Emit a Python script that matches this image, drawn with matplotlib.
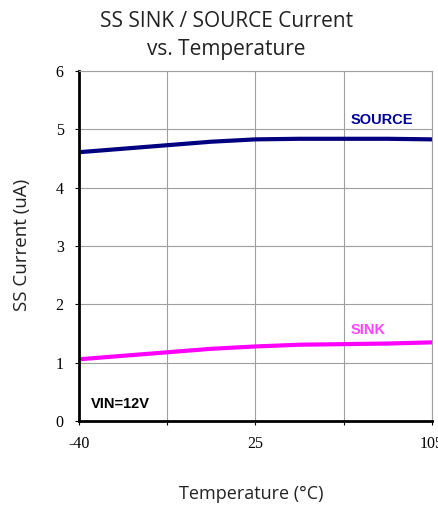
import numpy as np
import matplotlib.pyplot as plt

# temperature axis in the source chart: -40, 25 and 105 sit at 0, 2/4 and 4/4 of the width
axis_temps = [-40, 25, 105]
axis_pos = [0, 2, 4]

temp = np.array([-40, -23.75, -7.5, 8.75, 25, 45, 65, 85, 105])
source = np.array([4.61, 4.67, 4.73, 4.79, 4.83, 4.84, 4.84, 4.84, 4.83])
sink = np.array([1.06, 1.12, 1.18, 1.24, 1.28, 1.31, 1.32, 1.33, 1.35])

xticks = [-40, -7.5, 25, 65, 105]
xtick_labels = ['-40', '', '25', '', '105']


def fwd(t):
    return np.interp(t, axis_temps, axis_pos)


def inv(p):
    return np.interp(p, axis_pos, axis_temps)


fig = plt.figure(figsize=(4.39, 5.08), dpi=100)
ax = fig.add_axes([0.18, 0.171, 0.804, 0.689])
ax.set_xscale('function', functions=(fwd, inv))

ax.plot(temp, source, color='#000080', lw=3)
ax.plot(temp, sink, color='#ff00ff', lw=3)

ax.set_xlim(-40, 105)
ax.set_ylim(0, 6)
ax.set_xticks(xticks)
ax.set_xticklabels(xtick_labels, fontfamily='Liberation Serif', fontsize=11.5)
ax.minorticks_off()
ax.set_yticks(range(7))
ax.set_yticklabels([str(i) for i in range(7)], fontfamily='Liberation Serif', fontsize=11.5)
ax.tick_params(direction='out', length=3, color='black', pad=8)
ax.grid(True, color='#a0a0a0', lw=0.8)

for s in ['top', 'right']:
    ax.spines[s].set_color('#a0a0a0')
for s in ['left', 'bottom']:
    ax.spines[s].set_linewidth(2)
    ax.spines[s].set_color('black')

ax.text(68, 5.1, 'SOURCE', color='#000099', fontfamily='Liberation Sans',
        fontweight='bold', fontsize=10.5)
ax.text(68, 1.5, 'SINK', color='#ff44ff', fontfamily='Liberation Sans',
        fontweight='bold', fontsize=10.5)
ax.text(-35.5, 0.22, 'VIN=12V', color='black', fontfamily='Liberation Sans',
        fontweight='bold', fontsize=10.5)

fig.text(0.515, 0.957, 'SS SINK / SOURCE Current', ha='center', va='center',
         fontfamily='Open Sans', fontsize=15, color='#222222')
fig.text(0.515, 0.903, 'vs. Temperature', ha='center', va='center',
         fontfamily='Open Sans', fontsize=15, color='#222222')
fig.text(0.572, 0.028, 'Temperature (°C)', ha='center', va='center',
         fontfamily='Open Sans', fontsize=13, color='#222222')
fig.text(0.05, 0.518, 'SS Current (uA)', ha='center', va='center', rotation=90,
         fontfamily='Open Sans', fontsize=13.5, color='#222222')

fig.savefig('out.png', dpi=100)
